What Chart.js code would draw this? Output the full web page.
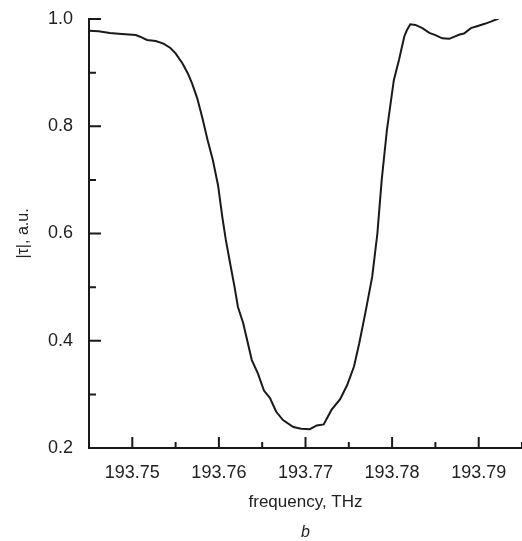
<!DOCTYPE html>
<html>
<head>
<meta charset="utf-8">
<script src="https://cdn.jsdelivr.net/npm/chart.js@4.4.1/dist/chart.umd.min.js"></script>
<style>
  html, body { margin: 0; padding: 0; background: #fff; }
  #wrap { width: 522px; height: 541px; }
</style>
</head>
<body>
<div id="wrap"><canvas id="grafico"></canvas></div>
<script>
// frecuencia (THz) y |tau|
const frecuencia = [
  193.7450, 193.7461, 193.7474, 193.7488, 193.7504, 193.7509, 193.7517, 193.7527,
  193.7536, 193.7544, 193.7550, 193.7558, 193.7564, 193.7569, 193.7575, 193.7581,
  193.7587, 193.7593, 193.7599, 193.7604, 193.7608, 193.7613, 193.7618, 193.7622,
  193.7628, 193.7638, 193.7645, 193.7652, 193.7659, 193.7666, 193.7674,
  193.7686, 193.7695, 193.7705, 193.7713, 193.7721, 193.7730, 193.7740, 193.7748,
  193.7756, 193.7762, 193.7769, 193.7777, 193.7783, 193.7788, 193.7794,
  193.7802, 193.7808, 193.7814, 193.7817, 193.7821, 193.7827, 193.7835, 193.7843,
  193.7850, 193.7858, 193.7866, 193.7872, 193.7878, 193.7883, 193.7891, 193.7899,
  193.7907, 193.7914, 193.7923
];
const tau = [
  0.978, 0.977, 0.974, 0.972, 0.970, 0.967, 0.961, 0.959,
  0.954, 0.946, 0.936, 0.917, 0.899, 0.880, 0.852, 0.815,
  0.774, 0.737, 0.690, 0.630, 0.588, 0.544, 0.501, 0.463,
  0.433, 0.364, 0.339, 0.307, 0.293, 0.268, 0.252,
  0.239, 0.236, 0.235, 0.242, 0.244, 0.271, 0.291, 0.317,
  0.352, 0.395, 0.451, 0.519, 0.600, 0.700, 0.793,
  0.886, 0.924, 0.967, 0.979, 0.990, 0.989, 0.983, 0.974,
  0.970, 0.964, 0.963, 0.967, 0.971, 0.973, 0.983, 0.987,
  0.991, 0.995, 1.001
];
const xMin = 193.745, xMax = 193.795;
const yMin = 0.2, yMax = 1.0;

const negro = '#1a1a1a';
const fuente = "'Liberation Sans', Arial, sans-serif";

// marcas hacia dentro (mayores con etiqueta, menores sin ella)
const marcasInternas = {
  id: 'marcasInternas',
  afterDatasetsDraw(chart) {
    const ctx = chart.ctx;
    const x = chart.scales.x, y = chart.scales.y;
    const area = chart.chartArea;
    ctx.save();
    ctx.strokeStyle = negro;
    ctx.lineWidth = 2;
    ctx.beginPath();
    x.ticks.forEach(t => {
      const px = x.getPixelForValue(t.value);
      const largo = t.label !== '' ? 11 : 6;
      ctx.moveTo(px, area.bottom);
      ctx.lineTo(px, area.bottom - largo);
    });
    y.ticks.forEach(t => {
      const py = y.getPixelForValue(t.value);
      const largo = t.label !== '' ? 12 : 7;
      ctx.moveTo(area.left, py);
      ctx.lineTo(area.left + largo, py);
    });
    ctx.stroke();
    ctx.restore();
  }
};

new Chart(document.getElementById('grafico'), {
  type: 'line',
  data: {
    datasets: [{
      data: frecuencia.map((f, i) => ({ x: f, y: tau[i] })),
      borderColor: negro,
      borderWidth: 2,
      pointRadius: 0,
      tension: 0,
      fill: false
    }]
  },
  options: {
    responsive: true,
    maintainAspectRatio: false,
    animation: false,
    layout: { padding: { top: 19, right: 0, left: 0, bottom: 0 } },
    scales: {
      x: {
        type: 'linear',
        min: xMin,
        max: xMax,
        afterFit: s => {
          s.height = 73;
          s.paddingLeft = 0;
          s.paddingRight = 0;
        },
        grid: { display: false, drawTicks: false },
        border: { display: true, color: negro, width: 2 },
        ticks: {
          stepSize: 0.005,
          autoSkip: false,
          maxRotation: 0,
          padding: 14,
          color: '#222',
          font: { family: fuente, size: 18 },
          callback: v => Math.round(v * 1000) % 10 === 0 ? v.toFixed(2) : ''
        },
        title: {
          display: true,
          text: 'frequency, THz',
          color: '#222',
          font: { family: fuente, size: 17 },
          padding: { top: 0, bottom: 8 }
        }
      },
      y: {
        min: yMin,
        max: yMax,
        afterFit: s => {
          s.width = 89;
          s.paddingTop = 0;
          s.paddingBottom = 0;
        },
        grid: { display: false, drawTicks: false },
        border: { display: true, color: negro, width: 2 },
        ticks: {
          stepSize: 0.1,
          autoSkip: false,
          padding: 16,
          color: '#222',
          font: { family: fuente, size: 18 },
          callback: v => Math.round(v * 10) % 2 === 0 ? v.toFixed(1) : ''
        },
        title: {
          display: true,
          text: '|τ|, a.u.',
          color: '#222',
          font: { family: fuente, size: 16 },
          padding: { top: 14, bottom: 0 }
        }
      }
    },
    plugins: {
      legend: { display: false },
      tooltip: { enabled: false },
      title: {
        display: true,
        position: 'bottom',
        fullSize: false,
        text: 'b',
        color: '#222',
        font: { family: fuente, size: 16, style: 'italic', weight: 'normal', lineHeight: 1 },
        padding: { top: 4, bottom: 0 }
      }
    }
  },
  plugins: [marcasInternas]
});
</script>
</body>
</html>
